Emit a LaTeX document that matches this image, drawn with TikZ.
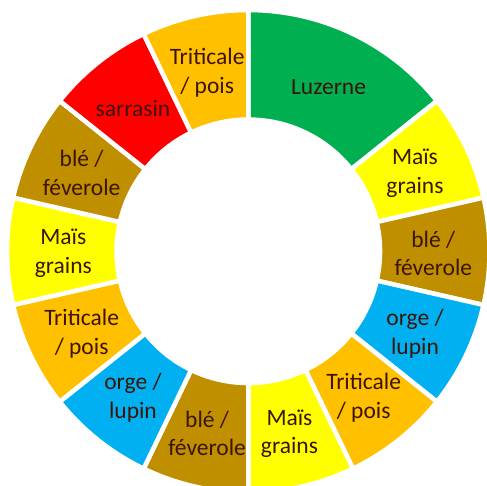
\documentclass[tikz,border=0pt]{standalone}
\usepackage{fontspec}
\setmainfont{Carlito}
\usepackage{xcolor}
\usetikzlibrary{positioning}
\definecolor{luz}{RGB}{0,176,80}
\definecolor{mais}{RGB}{255,255,0}
\definecolor{ble}{RGB}{191,143,0}
\definecolor{orge}{RGB}{0,176,240}
\definecolor{trit}{RGB}{255,192,0}
\definecolor{sarr}{RGB}{255,0,0}
\definecolor{txt}{RGB}{60,20,10}

\begin{document}
\begin{tikzpicture}[x=1pt,y=1pt,
  seg/.style={draw=white,line width=4.5pt,line join=miter},
  lbl/.style={align=center,text=txt,inner sep=0pt,yshift=-2pt,
    font=\fontsize{23.5}{28.5}\selectfont}]
  \clip (0,0) rectangle (487,485);
  % the ring, 14 parts clockwise from the top
  \begin{scope}[shift={(248.3,233.7)}]
    \foreach \s/\e/\col/\txt [count=\i] in {
      0/2/luz/{Luzerne},
      2/3/mais/{Maïs\\grains},
      3/4/ble/{blé /\\féverole},
      4/5/orge/{orge /\\lupin},
      5/6/trit/{Triticale\\/ pois},
      6/7/mais/{Maïs\\grains},
      7/8/ble/{blé /\\féverole},
      8/9/orge/{orge /\\lupin},
      9/10/trit/{Triticale\\/ pois},
      10/11/mais/{Maïs\\grains},
      11/12/ble/{blé /\\féverole},
      12/13/sarr/{sarrasin},
      13/14/trit/{Triticale\\/ pois}}{
      \pgfmathsetmacro\a{90-\s*360/14}
      \pgfmathsetmacro\b{90-\e*360/14}
      \pgfmathsetmacro\m{(\a+\b)/2}
      \draw[seg,fill=\col] (\a:241.25) arc[start angle=\a,end angle=\b,radius=241.25]
        -- (\b:131.75) arc[start angle=\b,end angle=\a,radius=131.75] -- cycle;
      \node[lbl] (part\i) at (\m:185) {\txt};
    }
  \end{scope}
\end{tikzpicture}
\end{document}
